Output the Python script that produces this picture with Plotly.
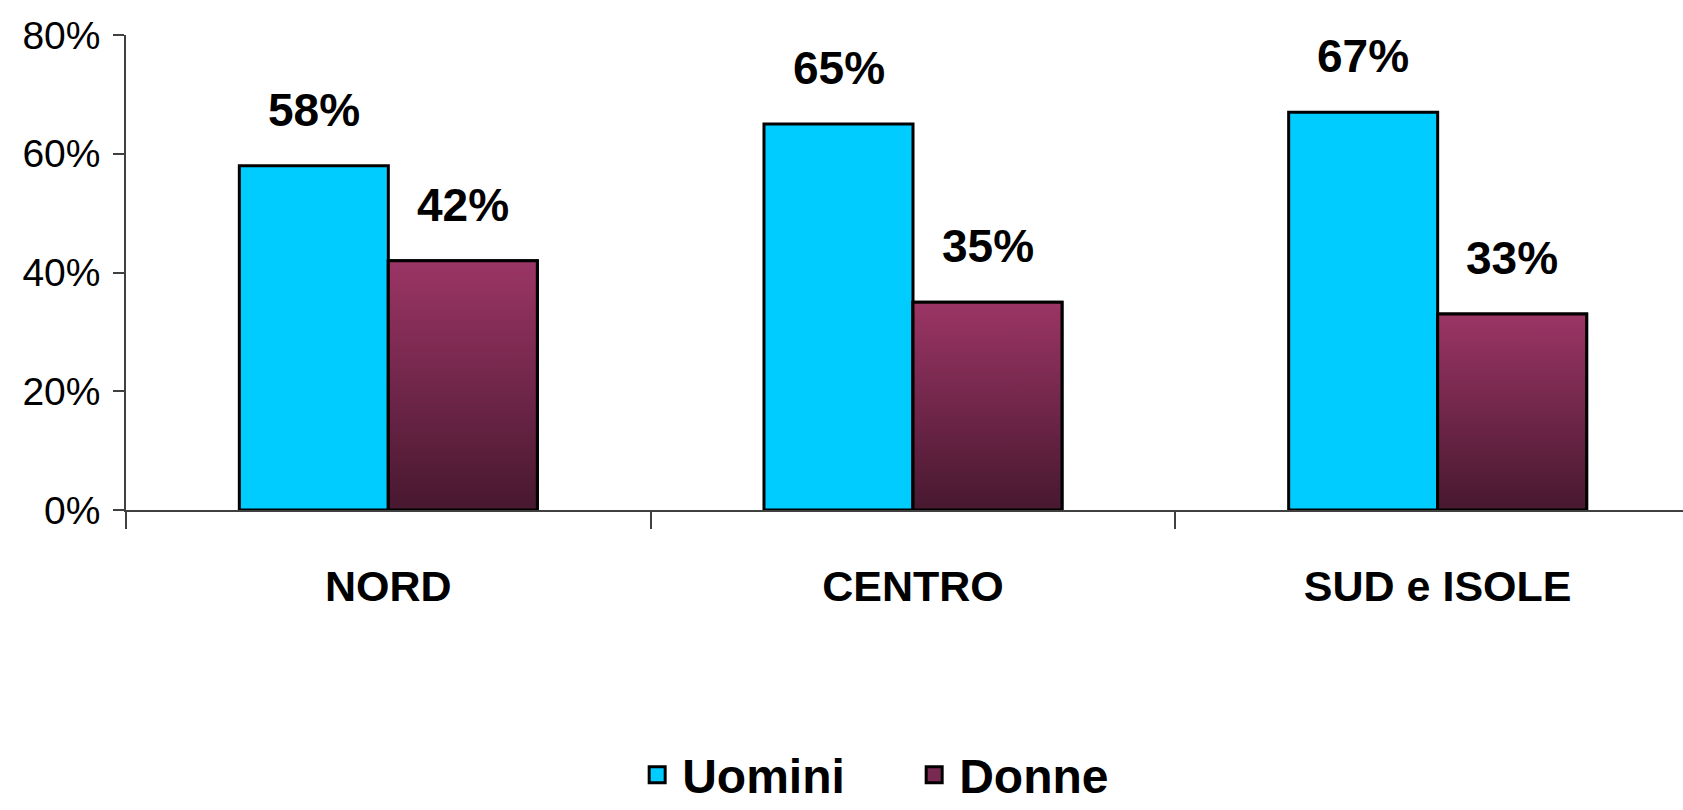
import plotly.graph_objects as go

# Data
categories = ["NORD", "CENTRO", "SUD e ISOLE"]
uomini = [0.58, 0.65, 0.67]
donne = [0.42, 0.35, 0.33]
y_ticks = [0, 0.2, 0.4, 0.6, 0.8]

# Styling
CYAN = "#00CCFF"
PLUM_TOP = "#9B3565"
PLUM_BOTTOM = "#47182F"
PLUM_MID = "#7A2A52"
BOLD = "Liberation Sans, Arial, sans-serif"
REGULAR = "Liberation Sans, Arial, sans-serif"
BAR_W = 0.284  # width of one bar, in category units
AXIS_COLOR = "#404040"

xs = list(range(len(categories)))

fig = go.Figure()

fig.add_trace(go.Bar(
    name="Uomini", x=xs, y=uomini, width=BAR_W, offset=-BAR_W,
    marker=dict(color=CYAN, line=dict(color="black", width=3)),
    showlegend=False,
))
fig.add_trace(go.Bar(
    name="Donne", x=xs, y=donne, width=BAR_W, offset=0,
    marker=dict(color=PLUM_MID, line=dict(color="black", width=3)),
    showlegend=False,
))

# Vertical gradient fill on each "Donne" bar, drawn over the plain bar
for i, v in zip(xs, donne):
    fig.add_trace(go.Scatter(
        x=[i, i + BAR_W, i + BAR_W, i, i],
        y=[0, 0, v, v, 0],
        mode="lines", fill="toself",
        fillgradient=dict(type="vertical",
                          colorscale=[[0, PLUM_BOTTOM], [1, PLUM_TOP]]),
        line=dict(color="black", width=3),
        showlegend=False, hoverinfo="skip",
    ))

# Legend keys: larger square swatches with a black outline
for name, color in [("Uomini", CYAN), ("Donne", PLUM_MID)]:
    fig.add_trace(go.Scatter(
        x=[None], y=[None], name=name, mode="markers",
        marker=dict(symbol="square", size=16, color=color,
                    line=dict(color="black", width=3)),
    ))

# Value labels above the bars
label_font = dict(family=BOLD, size=46, color="black", weight="bold")
for i, v in zip(xs, uomini):
    fig.add_annotation(x=i - BAR_W / 2, y=v, text=f"{round(v * 100)}%",
                       showarrow=False, yanchor="bottom", yshift=28, font=label_font)
for i, v in zip(xs, donne):
    fig.add_annotation(x=i + BAR_W / 2, y=v, text=f"{round(v * 100)}%",
                       showarrow=False, yanchor="bottom", yshift=28, font=label_font)

fig.update_layout(
    width=1683, height=810,
    margin=dict(l=126, r=0, t=35, b=300, autoexpand=False),
    plot_bgcolor="white", paper_bgcolor="white",
    barmode="overlay",
    showlegend=True,
    legend=dict(orientation="h", x=0.503, xanchor="center", y=-0.558, yanchor="middle",
                font=dict(family=BOLD, size=48, color="black", weight="bold"),
                traceorder="normal", itemwidth=40, entrywidthmode="pixels", entrywidth=222),
    xaxis=dict(
        range=[-0.5, 2.4676], tickvals=xs, ticktext=categories,
        ticks="", showgrid=False, zeroline=False, automargin=False,
        showline=True, linecolor=AXIS_COLOR, linewidth=1.5,
        tickfont=dict(family=BOLD, size=43, color="black", weight="bold"),
        ticklabelstandoff=38,
        minor=dict(tickvals=[-0.5, 0.5, 1.5], ticks="outside", ticklen=17,
                   tickcolor=AXIS_COLOR, tickwidth=1.5),
    ),
    yaxis=dict(
        range=[0, 0.8], tickvals=y_ticks, tickformat=".0%",
        ticks="outside", ticklen=11, tickcolor=AXIS_COLOR, tickwidth=1.5,
        showgrid=False, zeroline=False, automargin=False,
        showline=True, linecolor=AXIS_COLOR, linewidth=1.5,
        tickfont=dict(family=REGULAR, size=39, color="black"),
        ticklabelstandoff=5,
    ),
)

fig.write_html("out.html")
